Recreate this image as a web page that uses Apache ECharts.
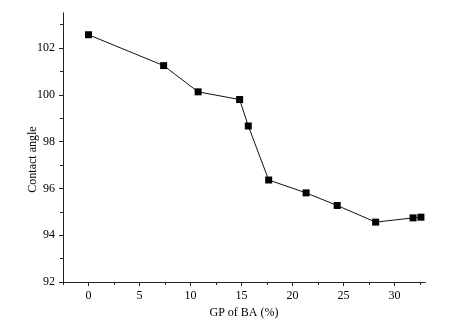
<!DOCTYPE html>
<html><head><meta charset="utf-8">
<script src="https://cdn.jsdelivr.net/npm/echarts@6/dist/echarts.min.js"></script>
<style>html,body{margin:0;padding:0;background:#fff}#c{width:454px;height:325px}</style>
</head><body><div id="c"></div>
<script>
const gpOfBA = [0, 7.37, 10.75, 14.82, 15.67, 17.67, 21.34, 24.39, 28.16, 31.83, 32.6];
const contactAngle = [102.57, 101.25, 100.13, 99.8, 98.67, 96.36, 95.81, 95.27, 94.56, 94.74, 94.77];
const xMajorTicks = [0, 5, 10, 15, 20, 25, 30];
const xMinorTicks = [-2.5, 2.5, 7.5, 12.5, 17.5, 22.5, 27.5, 32.5];
const yMajorTicks = [92, 94, 96, 98, 100, 102];
const yMinorTicks = [93, 95, 97, 99, 101, 103];

const font = 'Liberation Serif';
const lineCol = '#222';
const chart = echarts.init(document.getElementById('c'));
const baseX = {
  type: 'value', min: -2.5, max: 33, position: 'bottom',
  splitLine: {show: false},
  axisLine: {show: true, onZero: false, lineStyle: {color: lineCol, width: 1}}
};
const baseY = {
  type: 'value', min: 92, max: 103.5, position: 'left',
  splitLine: {show: false},
  axisLine: {show: true, onZero: false, lineStyle: {color: lineCol, width: 1}}
};
chart.setOption({
  animation: false,
  grid: {left: 63, right: 29, top: 13, bottom: 43},
  xAxis: [
    Object.assign({}, baseX, {
      name: 'GP of BA (%)', nameLocation: 'middle', nameGap: 23,
      nameTextStyle: {fontFamily: font, fontSize: 12, color: '#000'},
      axisTick: {show: true, length: 4, customValues: xMajorTicks, lineStyle: {color: lineCol}},
      axisLabel: {customValues: xMajorTicks, fontFamily: font, fontSize: 12, color: '#000', margin: 8}
    }),
    Object.assign({}, baseX, {
      axisTick: {show: true, length: 3, customValues: xMinorTicks, lineStyle: {color: lineCol}},
      axisLabel: {show: false}
    })
  ],
  yAxis: [
    Object.assign({}, baseY, {
      name: 'Contact angle', nameLocation: 'middle', nameGap: 24, nameMoveOverlap: false,
      nameTextStyle: {fontFamily: font, fontSize: 12, color: '#000', padding: [0, 24, 0, 0]},
      axisTick: {show: true, length: 4, customValues: yMajorTicks, lineStyle: {color: lineCol}},
      axisLabel: {customValues: yMajorTicks, fontFamily: font, fontSize: 12, color: '#000', margin: 8}
    }),
    Object.assign({}, baseY, {
      axisTick: {show: true, length: 3, customValues: yMinorTicks, lineStyle: {color: lineCol}},
      axisLabel: {show: false}
    })
  ],
  series: [{
    type: 'line',
    data: gpOfBA.map((x, i) => [x, contactAngle[i]]),
    symbol: 'rect', symbolSize: 7,
    itemStyle: {color: '#000'},
    lineStyle: {color: '#111', width: 1}
  }]
});
</script></body></html>
